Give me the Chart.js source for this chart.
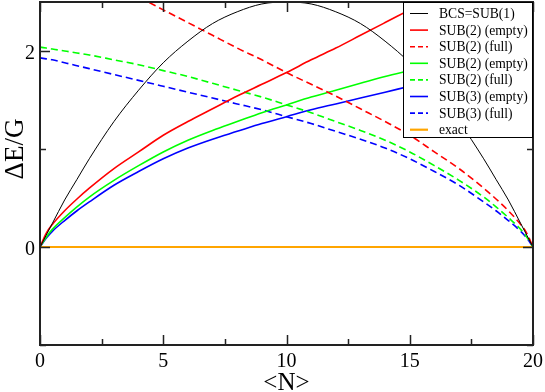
<!DOCTYPE html>
<html>
<head>
<meta charset="utf-8">
<script src="https://cdn.jsdelivr.net/npm/chart.js@4.4.1/dist/chart.umd.min.js"></script>
<style>
  html, body { margin: 0; padding: 0; background: #fff; }
  #wrap { width: 545px; height: 392px; }
</style>
</head>
<body>
<div id="wrap"><canvas id="chart" width="545" height="392"></canvas></div>
<script>
// particle number <N> grid shared by the curves
const nValues = [0, 0.25, 0.5, 1, 1.5, 2, 3, 4, 5, 6, 7, 8, 9, 10, 11, 12, 13, 14, 15, 16, 17, 18, 18.5, 19, 19.5, 19.75, 20];

// ΔE/G
const bcs      = [0, 0.12, 0.24, 0.48, 0.69, 0.9, 1.28, 1.6, 1.88, 2.1, 2.28, 2.4, 2.48, 2.5, 2.48, 2.4, 2.28, 2.1, 1.88, 1.6, 1.28, 0.9, 0.69, 0.48, 0.24, 0.12, 0];
const sub2Empty  = [0, 0.14, 0.23, 0.37, 0.49, 0.6, 0.8, 0.97, 1.14, 1.28, 1.41, 1.54, 1.66, 1.78, 1.91, 2.03, 2.16, 2.29, 2.42, 2.55, 2.67, 2.79, 2.85, 2.91, 2.97, 3.0, 3.02];
const sub2Full   = [3.02, 3.0, 2.97, 2.91, 2.85, 2.79, 2.67, 2.55, 2.42, 2.29, 2.16, 2.03, 1.91, 1.78, 1.66, 1.54, 1.41, 1.28, 1.14, 0.97, 0.8, 0.6, 0.49, 0.37, 0.23, 0.14, 0];
const sub2bEmpty = [0, 0.1, 0.18, 0.3, 0.41, 0.51, 0.68, 0.83, 0.97, 1.09, 1.19, 1.28, 1.37, 1.45, 1.53, 1.6, 1.67, 1.74, 1.8, 1.86, 1.91, 1.96, 1.98, 2.0, 2.02, 2.03, 2.04];
const sub2bFull  = [2.04, 2.03, 2.02, 2.0, 1.98, 1.96, 1.91, 1.86, 1.8, 1.74, 1.67, 1.6, 1.53, 1.45, 1.37, 1.28, 1.19, 1.09, 0.97, 0.83, 0.68, 0.51, 0.41, 0.3, 0.18, 0.1, 0];
const sub3Empty  = [0, 0.09, 0.16, 0.27, 0.37, 0.46, 0.63, 0.77, 0.9, 1.01, 1.1, 1.18, 1.26, 1.33, 1.4, 1.46, 1.52, 1.58, 1.64, 1.7, 1.76, 1.82, 1.85, 1.88, 1.91, 1.92, 1.93];
const sub3Full   = [1.93, 1.92, 1.91, 1.88, 1.85, 1.82, 1.76, 1.7, 1.64, 1.58, 1.52, 1.46, 1.4, 1.33, 1.26, 1.18, 1.1, 1.01, 0.9, 0.77, 0.63, 0.46, 0.37, 0.27, 0.16, 0.09, 0];
const exactN = [0, 20];
const exactE = [0, 0];

const xMajor = [0, 5, 10, 15, 20];
const xMinor = [2.5, 7.5, 12.5, 17.5];
const yMajor = [0, 2];
const yMinor = [-1, 1];
const legendLabels = ['BCS=SUB(1)', 'SUB(2) (empty)', 'SUB(2) (full)', 'SUB(2) (empty)', 'SUB(2) (full)', 'SUB(3) (empty)', 'SUB(3) (full)', 'exact'];

const FONT = '"Liberation Serif", "Times New Roman", serif';

const pts = (xs, ys) => xs.map((n, i) => ({ x: n, y: ys[i] }));

function curve(label, xs, ys, color, dashed, width) {
    return {
        label: label,
        data: pts(xs, ys),
        borderColor: color,
        borderWidth: width,
        borderDash: dashed ? [7, 4] : [],
        pointRadius: 0,
        fill: false,
        cubicInterpolationMode: 'monotone'
    };
}

const datasets = [
    curve(legendLabels[0], nValues, bcs, '#000000', false, 1),
    curve(legendLabels[1], nValues, sub2Empty, '#ff0000', false, 1.6),
    curve(legendLabels[2], nValues, sub2Full, '#ff0000', true, 1.6),
    curve(legendLabels[3], nValues, sub2bEmpty, '#00ff00', false, 1.6),
    curve(legendLabels[4], nValues, sub2bFull, '#00ff00', true, 1.6),
    curve(legendLabels[5], nValues, sub3Empty, '#0000ff', false, 1.6),
    curve(legendLabels[6], nValues, sub3Full, '#0000ff', true, 1.6),
    curve(legendLabels[7], exactN, exactE, '#ffa500', false, 2.2)
];

// frame with inward ticks, boxed legend inside the plot, y title
const framePlugin = {
    id: 'frame',
    afterDraw(chart) {
        const { ctx, chartArea: a, scales: { x, y } } = chart;
        ctx.save();
        ctx.strokeStyle = '#222';
        ctx.lineWidth = 1.5;
        ctx.beginPath();
        const xTick = (v, len) => {
            const px = Math.round(x.getPixelForValue(v)) + 0.5;
            ctx.moveTo(px, a.bottom); ctx.lineTo(px, a.bottom - len);
            ctx.moveTo(px, a.top); ctx.lineTo(px, a.top + len);
        };
        const yTick = (v, len) => {
            const py = Math.round(y.getPixelForValue(v)) + 0.5;
            ctx.moveTo(a.left, py); ctx.lineTo(a.left + len, py);
            ctx.moveTo(a.right, py); ctx.lineTo(a.right - len, py);
        };
        xMajor.forEach(v => xTick(v, 10));
        xMinor.forEach(v => xTick(v, 6));
        yMajor.forEach(v => yTick(v, 10));
        yMinor.forEach(v => yTick(v, 6));
        ctx.stroke();
        ctx.lineWidth = 2;
        ctx.strokeRect(a.left, a.top, a.right - a.left, a.bottom - a.top);

        // legend
        const bx = a.right - 130, by = a.top, bw = 130, bh = 136;
        ctx.fillStyle = '#fff';
        ctx.fillRect(bx, by, bw, bh);
        ctx.lineWidth = 1;
        ctx.strokeStyle = '#000';
        ctx.strokeRect(bx + 0.5, by + 0.5, bw - 1, bh - 1);
        ctx.font = '13.6px ' + FONT;
        ctx.textBaseline = 'middle';
        ctx.textAlign = 'left';
        chart.data.datasets.forEach((ds, i) => {
            const ly = by + 11.5 + i * 16.6;
            ctx.beginPath();
            ctx.strokeStyle = ds.borderColor;
            ctx.lineWidth = ds.borderWidth;
            ctx.setLineDash(ds.borderDash.length ? [5, 3] : []);
            ctx.moveTo(bx + 7, ly); ctx.lineTo(bx + 25, ly);
            ctx.stroke();
            ctx.setLineDash([]);
            ctx.fillStyle = '#000';
            ctx.fillText(ds.label, bx + 36, ly + 1);
        });

        // y axis title
        ctx.translate(16, y.getPixelForValue(1));
        ctx.rotate(-Math.PI / 2);
        ctx.font = '27px ' + FONT;
        ctx.textAlign = 'center';
        ctx.fillStyle = '#000';
        ctx.fillText('ΔE/G', 0, 0);
        ctx.restore();
    }
};

new Chart(document.getElementById('chart').getContext('2d'), {
    type: 'line',
    data: { datasets: datasets },
    options: {
        responsive: false,
        animation: false,
        devicePixelRatio: 1,
        layout: { padding: { top: 2, right: 12, left: 0, bottom: 0 } },
        plugins: { legend: { display: false }, tooltip: { enabled: false } },
        scales: {
            x: {
                type: 'linear',
                min: 0,
                max: 20,
                grid: { display: false, drawTicks: false },
                border: { display: false },
                afterBuildTicks: s => { s.ticks = xMajor.map(v => ({ value: v })); },
                ticks: { color: '#000', font: { family: FONT, size: 20 }, padding: 5, maxRotation: 0 },
                title: { display: true, text: '<N>', color: '#000', font: { family: FONT, size: 25, lineHeight: 1 }, padding: { top: 0, bottom: -4 } },
                afterFit: s => { s.height = 47; s.paddingLeft = 0; s.paddingRight = 0; }
            },
            y: {
                type: 'linear',
                min: -1,
                max: 2.5,
                grid: { display: false, drawTicks: false },
                border: { display: false },
                afterBuildTicks: s => { s.ticks = yMajor.map(v => ({ value: v })); },
                ticks: { color: '#000', font: { family: FONT, size: 20 }, padding: 5, labelOffset: 3 },
                afterFit: s => { s.width = 40; s.paddingTop = 0; s.paddingBottom = 0; }
            }
        }
    },
    plugins: [framePlugin]
});
</script>
</body>
</html>
